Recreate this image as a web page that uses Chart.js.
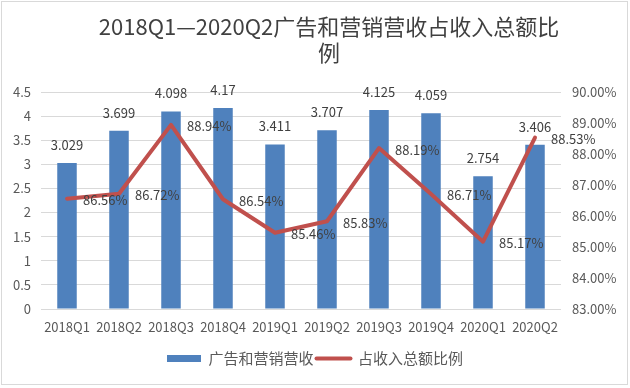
<!DOCTYPE html>
<html>
<head>
<meta charset="utf-8">
<script src="https://cdn.jsdelivr.net/npm/chart.js@4.4.1/dist/chart.umd.min.js"></script>
<style>
html,body{margin:0;padding:0;background:#fff;}
canvas{display:block;}
</style>
</head>
<body>
<canvas id="c" width="630" height="388"></canvas>
<script>
const titleLines = ['2018Q1—2020Q2广告和营销营收占收入总额比', '例'];
const categories = ['2018Q1','2018Q2','2018Q3','2018Q4','2019Q1','2019Q2','2019Q3','2019Q4','2020Q1','2020Q2'];
const adRevenue = [3.029, 3.699, 4.098, 4.17, 3.411, 3.707, 4.125, 4.059, 2.754, 3.406];
const sharePct = [86.56, 86.72, 88.94, 86.54, 85.46, 85.83, 88.19, 86.71, 85.17, 88.53];
const seriesNames = ['广告和营销营收', '占收入总额比例'];

const FONT = '"Noto Sans CJK SC", "Noto Sans", sans-serif';
const BLUE = '#4F81BD';
const RED = '#C0504D';

const decorPlugin = {
  id: 'decor',
  beforeDraw(chart) {
    const ctx = chart.ctx;
    ctx.save();
    ctx.fillStyle = '#fff';
    ctx.fillRect(0, 0, chart.width, chart.height);
    ctx.strokeStyle = '#D9D9D9';
    ctx.lineWidth = 1;
    ctx.strokeRect(1.5, 1.5, 626, 383);
    ctx.restore();
  },
  afterDraw(chart) {
    const ctx = chart.ctx;
    ctx.save();
    ctx.font = '22px ' + FONT;
    ctx.fillStyle = '#404040';
    ctx.textAlign = 'center';
    ctx.textBaseline = 'middle';
    titleLines.forEach((t, i) => ctx.fillText(t, 329, 27 + i * 26));
    ctx.font = '13px ' + FONT;
    ctx.fillStyle = '#404040';
    const barMeta = chart.getDatasetMeta(0);
    barMeta.data.forEach((el, i) => {
      ctx.textAlign = 'center';
      ctx.fillText(String(adRevenue[i]), el.x, el.y - 18);
    });
    const lineMeta = chart.getDatasetMeta(1);
    lineMeta.data.forEach((el, i) => {
      ctx.textAlign = 'left';
      ctx.fillText(sharePct[i].toFixed(2) + '%', el.x + 16, el.y + 1.5);
    });
    ctx.restore();
  }
};

new Chart(document.getElementById('c'), {
  data: {
    labels: categories,
    datasets: [
      {
        type: 'bar',
        label: seriesNames[0],
        data: adRevenue,
        backgroundColor: BLUE,
        borderWidth: 0,
        barPercentage: 0.375,
        categoryPercentage: 1,
        yAxisID: 'y',
        order: 2
      },
      {
        type: 'line',
        label: seriesNames[1],
        data: sharePct,
        borderColor: RED,
        backgroundColor: RED,
        borderWidth: 4,
        borderJoinStyle: 'round',
        borderCapStyle: 'round',
        pointRadius: 0,
        tension: 0,
        yAxisID: 'y1',
        order: 1
      }
    ]
  },
  options: {
    responsive: false,
    animation: false,
    devicePixelRatio: 1,
    layout: { padding: { top: 92, bottom: 12, left: 0, right: 0 } },
    plugins: {
      title: { display: false },
      tooltip: { enabled: false },
      legend: {
        position: 'bottom',
        labels: {
          font: { family: FONT, size: 15 },
          color: '#595959',
          usePointStyle: true,
          pointStyleWidth: 34,
          boxWidth: 34,
          boxHeight: 7,
          padding: 3,
          sort: (a, b) => a.datasetIndex - b.datasetIndex,
          generateLabels(chart) {
            const items = Chart.defaults.plugins.legend.labels.generateLabels(chart);
            items.forEach(it => {
              if (it.datasetIndex === 0) {
                it.pointStyle = 'rect';
                it.lineWidth = 0;
                it.fillStyle = BLUE;
                it.strokeStyle = BLUE;
              } else {
                it.pointStyle = 'line';
                it.lineWidth = 4;
                it.strokeStyle = RED;
                it.fillStyle = RED;
                it.lineCap = 'round';
              }
            });
            return items;
          }
        }
      }
    },
    scales: {
      x: {
        grid: { display: false, drawTicks: false },
        border: { display: false },
        ticks: { font: { family: FONT, size: 13 }, color: '#595959', padding: 10, maxRotation: 0, autoSkip: false },
        afterFit(scale) { scale.height = 39; }
      },
      y: {
        position: 'left',
        min: 0,
        max: 4.5,
        grid: { color: '#D9D9D9', lineWidth: 1, drawTicks: false },
        border: { display: false },
        ticks: {
          stepSize: 0.5,
          font: { family: FONT, size: 13 },
          color: '#595959',
          padding: 10,
          callback: v => String(Number(v.toFixed(1)))
        },
        afterFit(scale) { scale.width = 41; }
      },
      y1: {
        position: 'right',
        min: 83,
        max: 90,
        grid: { display: false, drawTicks: false },
        border: { display: false },
        ticks: {
          stepSize: 1,
          font: { family: FONT, size: 13 },
          color: '#595959',
          padding: 11,
          callback: v => Number(v).toFixed(2) + '%'
        },
        afterFit(scale) { scale.width = 69; }
      }
    }
  },
  plugins: [decorPlugin]
});
</script>
</body>
</html>
